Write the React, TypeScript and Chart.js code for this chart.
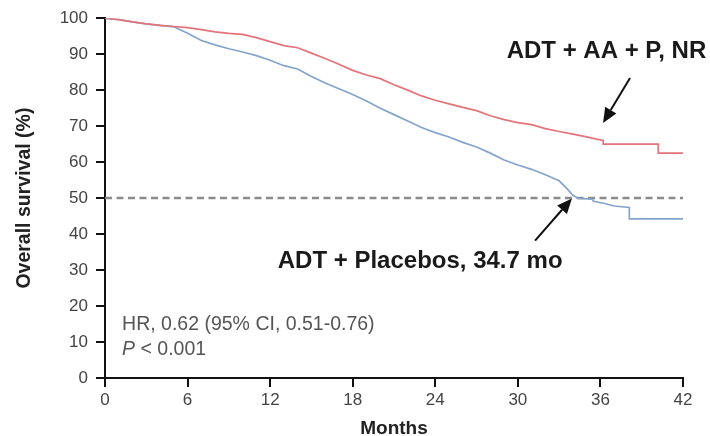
import React, { useEffect, useRef } from "react";
import { Chart, registerables } from "chart.js";

Chart.register(...registerables);

// ---- Data ----
const abiMonths = [0, 1, 2, 3, 4, 5, 6, 7, 8, 9, 10, 11, 12, 13, 14, 15, 16, 17, 18, 19, 20, 21, 22, 23, 24, 25, 26, 27, 28, 29, 30, 31, 32, 33, 34, 35, 35.8, 36.2, 36.2, 40.2, 40.2, 42];
const abiSurvival = [100, 99.6, 99, 98.4, 98, 97.7, 97.4, 96.8, 96.2, 95.8, 95.5, 94.6, 93.5, 92.4, 91.8, 90.3, 88.8, 87.2, 85.5, 84.2, 83.2, 81.5, 80, 78.4, 77.2, 76.2, 75.2, 74.3, 72.9, 71.8, 71, 70.4, 69.3, 68.5, 67.8, 67, 66.3, 66, 65, 65, 62.5, 62.5];

const placeboMonths = [0, 1, 2, 3, 4, 5, 6, 7, 8, 9, 10, 11, 12, 13, 14, 15, 16, 17, 18, 19, 20, 21, 22, 23, 24, 25, 26, 27, 28, 29, 30, 31, 32, 33, 33.6, 34, 34.4, 35.4, 35.5, 36.3, 37, 38.1, 38.1, 42];
const placeboSurvival = [100, 99.6, 99, 98.4, 98, 97.6, 95.8, 93.8, 92.6, 91.5, 90.6, 89.6, 88.3, 86.8, 85.9, 83.8, 82, 80.4, 78.8, 77, 75, 73.2, 71.4, 69.6, 68.2, 67, 65.5, 64.2, 62.5, 60.6, 59.2, 58, 56.5, 54.8, 52.5, 50.8, 49.9, 49.7, 49.1, 48.5, 47.8, 47.4, 44.2, 44.2];

const medianMonths = [0, 42];
const medianLevel = [50, 50];

const xTickValues = [0, 6, 12, 18, 24, 30, 36, 42];
const yTickValues = [0, 10, 20, 30, 40, 50, 60, 70, 80, 90, 100];

const abiLabel = "ADT + AA + P, NR";
const placeboLabel = "ADT + Placebos, 34.7 mo";
const hrLabel = "HR, 0.62 (95% CI, 0.51-0.76)";
const pLabelItalic = "P";
const pLabelRest = " < 0.001";

const FONT = "'Liberation Sans', Arial, sans-serif";

function toPoints(xs: number[], ys: number[]) {
  return xs.map((x, i) => ({ x, y: ys[i] }));
}

function drawArrow(ctx: CanvasRenderingContext2D, x1: number, y1: number, x2: number, y2: number) {
  const ang = Math.atan2(y2 - y1, x2 - x1);
  const headLen = 15;
  const headW = 6.5;
  const bx = x2 - headLen * Math.cos(ang);
  const by = y2 - headLen * Math.sin(ang);
  ctx.save();
  ctx.strokeStyle = "#111";
  ctx.fillStyle = "#111";
  ctx.lineWidth = 2;
  ctx.beginPath();
  ctx.moveTo(x1, y1);
  ctx.lineTo(bx, by);
  ctx.stroke();
  ctx.beginPath();
  ctx.moveTo(x2, y2);
  ctx.lineTo(bx + headW * Math.sin(ang), by - headW * Math.cos(ang));
  ctx.lineTo(bx - headW * Math.sin(ang), by + headW * Math.cos(ang));
  ctx.closePath();
  ctx.fill();
  ctx.restore();
}

const annotationPlugin = {
  id: "kmAnnotations",
  afterDatasetsDraw(chart: any) {
    const { ctx } = chart;
    const xs = chart.scales.x;
    const ys = chart.scales.y;
    const px = (v: number) => xs.getPixelForValue(v);
    const py = (v: number) => ys.getPixelForValue(v);
    ctx.save();
    // Group labels
    ctx.fillStyle = "#1a1a1a";
    ctx.font = `bold 24px ${FONT}`;
    ctx.textAlign = "center";
    ctx.textBaseline = "alphabetic";
    ctx.fillText(abiLabel, px(36.44), py(88.9));
    ctx.fillText(placeboLabel, px(22.9), py(30.7));
    // Arrows
    drawArrow(ctx, px(38.15), py(83.4), px(36.19), py(70.9));
    drawArrow(ctx, px(31.25), py(38.2), px(33.93), py(49.9));
    // Stats text
    ctx.fillStyle = "#555";
    ctx.textAlign = "left";
    ctx.font = `19.5px ${FONT}`;
    ctx.fillText(hrLabel, px(1.24), py(13.3));
    ctx.font = `italic 19.5px ${FONT}`;
    const pw = ctx.measureText(pLabelItalic).width;
    ctx.fillText(pLabelItalic, px(1.24), py(6.4));
    ctx.font = `19.5px ${FONT}`;
    ctx.fillText(pLabelRest, px(1.24) + pw, py(6.4));
    ctx.restore();
  },
};

export default function App() {
  const canvasRef = useRef<HTMLCanvasElement | null>(null);

  useEffect(() => {
    const canvas = canvasRef.current;
    if (!canvas) return;
    const chart = new Chart(canvas, {
      type: "line",
      data: {
        datasets: [
          {
            label: abiLabel,
            data: toPoints(abiMonths, abiSurvival),
            borderColor: "rgb(226, 116, 122)",
            borderWidth: 1.7,
            pointRadius: 0,
            tension: 0,
            fill: false,
          },
          {
            label: placeboLabel,
            data: toPoints(placeboMonths, placeboSurvival),
            borderColor: "rgb(132, 164, 204)",
            borderWidth: 1.7,
            pointRadius: 0,
            tension: 0,
            fill: false,
          },
          {
            label: "Median",
            data: toPoints(medianMonths, medianLevel),
            borderColor: "#8a8a8a",
            borderWidth: 2.5,
            borderDash: [7, 4.5],
            pointRadius: 0,
            fill: false,
          },
        ],
      },
      options: {
        responsive: false,
        animation: false,
        events: [],
        layout: { padding: { top: 17, right: 27, left: 0, bottom: 0 } },
        plugins: {
          legend: { display: false },
          tooltip: { enabled: false },
          title: { display: false },
        },
        scales: {
          x: {
            type: "linear",
            min: 0,
            max: 42,
            afterBuildTicks: (scale: any) => {
              scale.ticks = xTickValues.map((v) => ({ value: v }));
            },
            afterFit: (scale: any) => {
              scale.height = 58;
            },
            ticks: {
              color: "#444",
              font: { family: FONT, size: 17 },
              padding: 3,
              maxRotation: 0,
            },
            grid: {
              drawOnChartArea: false,
              drawTicks: true,
              tickLength: 9,
              color: "#111",
              lineWidth: 2,
            },
            border: { display: true, color: "#111", width: 2 },
            title: {
              display: true,
              text: "Months",
              color: "#222",
              font: { family: FONT, size: 19, weight: "bold", lineHeight: 1 },
              padding: { top: 0, bottom: -2 },
            },
          },
          y: {
            type: "linear",
            min: 0,
            max: 100,
            afterBuildTicks: (scale: any) => {
              scale.ticks = yTickValues.map((v) => ({ value: v }));
            },
            afterFit: (scale: any) => {
              scale.width = 105;
            },
            ticks: {
              color: "#444",
              font: { family: FONT, size: 17 },
              padding: 8,
            },
            grid: {
              drawOnChartArea: false,
              drawTicks: true,
              tickLength: 9,
              color: "#111",
              lineWidth: 2,
            },
            border: { display: true, color: "#111", width: 2 },
            title: {
              display: true,
              text: "Overall survival (%)",
              color: "#222",
              font: { family: FONT, size: 19.5, weight: "bold", lineHeight: 1 },
              padding: { top: 15, bottom: 0 },
            },
          },
        },
      },
      plugins: [annotationPlugin],
    } as any);
    return () => chart.destroy();
  }, []);

  return (
    <div style={{ position: "fixed", left: 0, top: 0, width: 710, height: 436, background: "#fff" }}>
      <canvas ref={canvasRef} width={710} height={436} style={{ display: "block" }} />
    </div>
  );
}
